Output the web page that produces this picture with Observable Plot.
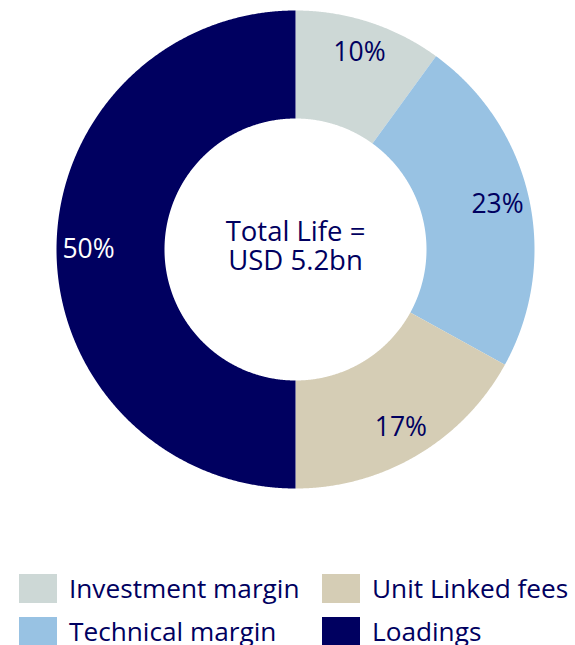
<!DOCTYPE html>
<html>
<head>
<meta charset="utf-8">
<script src="https://cdn.jsdelivr.net/npm/d3@7"></script>
<script src="https://cdn.jsdelivr.net/npm/@observablehq/plot@0.6"></script>
<style>
  html, body { margin: 0; padding: 0; background: #fff; }
  body { width: 575px; height: 645px; overflow: hidden; font-family: "Open Sans", sans-serif; }
  #chart svg { display: block; }
  .legend { display: grid; grid-template-columns: 303px 250px; row-gap: 14px; padding-left: 19px; margin-top: 14px; }
  .item { display: flex; align-items: center; height: 29px; }
  .sw { width: 38px; height: 29px; margin-right: 12px; flex: none; }
  .lbl { font-size: 26.2px; color: #000060; white-space: nowrap; line-height: 29px; }
</style>
</head>
<body>
<div id="chart"></div>
<div class="legend" id="legend"></div>
<script>
const categories = ["Investment margin", "Technical margin", "Unit Linked fees", "Loadings"];
const shares = [10, 23, 17, 50];
const colors = ["#cdd8d6", "#98c2e3", "#d5cdb5", "#000060"];
const labelColors = ["#000060", "#000060", "#000060", "#ffffff"];
const shareLabels = ["10%", "23%", "17%", "50%"];
const centerLines = ["Total Life =", "USD 5.2bn"];
const legendOrder = ["Investment margin", "Unit Linked fees", "Technical margin", "Loadings"];

const outerR = 1;
const innerR = 131 / 239;
const labelR = 207 / 239;

const arcs = d3.pie().sort(null).value(d => d)(shares);

// polygon vertices of each donut slice, in data units (angles from the pie layout)
const slicePts = [];
arcs.forEach((a, i) => {
  const n = Math.max(2, Math.ceil((a.endAngle - a.startAngle) / 0.005));
  const outer = d3.range(n + 1).map(k => a.startAngle + (a.endAngle - a.startAngle) * k / n);
  outer.forEach(t => slicePts.push({key: categories[i], x: outerR * Math.sin(t), y: outerR * Math.cos(t)}));
  outer.slice().reverse().forEach(t => slicePts.push({key: categories[i], x: innerR * Math.sin(t), y: innerR * Math.cos(t)}));
});

const labels = arcs.map((a, i) => {
  const m = (a.startAngle + a.endAngle) / 2;
  return {text: shareLabels[i], x: labelR * Math.sin(m), y: labelR * Math.cos(m), c: labelColors[i]};
});

const chart = Plot.plot({
  width: 575,
  height: 560,
  marginLeft: 56,
  marginRight: 41,
  marginTop: 10,
  marginBottom: 72,
  style: {fontFamily: "Open Sans", background: "white"},
  x: {domain: [-1, 1], axis: null},
  y: {domain: [-1, 1], axis: null},
  color: {type: "ordinal", domain: categories, range: colors},
  marks: [
    Plot.line(slicePts, {x: "x", y: "y", z: "key", fill: "key", stroke: "none", curve: "linear-closed"}),
    Plot.text(labels, {x: "x", y: "y", text: "text", fill: "c", fontSize: 26.5}),
    Plot.text([centerLines.join("\n")], {x: () => 0, y: () => 0, text: d => d, fill: "#000060", fontSize: 27.5, lineHeight: 1.06, dy: -3})
  ]
});
document.getElementById("chart").appendChild(chart);

const legend = document.getElementById("legend");
legendOrder.forEach(name => {
  const i = categories.indexOf(name);
  const item = document.createElement("div");
  item.className = "item";
  item.innerHTML = `<div class="sw" style="background:${colors[i]}"></div><span class="lbl">${name}</span>`;
  legend.appendChild(item);
});
</script>
</body>
</html>
